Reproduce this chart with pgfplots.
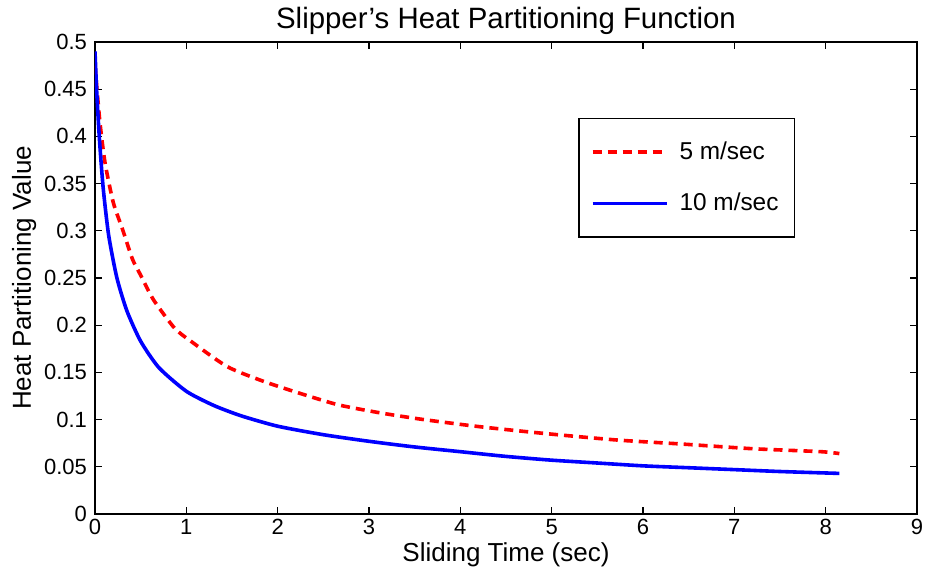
\documentclass[border=0pt]{standalone}
\usepackage{fontspec}
\setmainfont{Liberation Sans}
\usepackage{pgfplots}
\pgfplotsset{compat=1.18}
\begin{document}
\begin{tikzpicture}
\begin{axis}[
  scale only axis,
  width=411pt, height=236pt,
  xmin=0, xmax=9, ymin=0, ymax=0.5,
  xtick={0,1,...,9},
  ytick={0,0.05,0.1,0.15,0.2,0.25,0.3,0.35,0.4,0.45,0.5},
  scaled y ticks=false,
  yticklabel style={/pgf/number format/fixed, /pgf/number format/precision=2},
  /pgf/number format/assume math mode=true,
  tick align=inside,
  major tick length=3.5pt,
  tick style={black, line width=0.6pt},
  axis line style={line width=0.8pt},
  ticklabel style={font=\fontsize{11pt}{13pt}\selectfont},
  xticklabel style={yshift=1pt},
  yticklabel style={xshift=-0.5pt},
  xlabel={Sliding Time (sec)},
  ylabel={Heat Partitioning Value},
  label style={font=\fontsize{13pt}{15pt}\selectfont},
  xlabel style={yshift=3pt},
  ylabel style={yshift=-3pt},
  title={Slipper’s Heat Partitioning Function},
  title style={font=\fontsize{14.7pt}{16pt}\selectfont, yshift=-6pt},
  legend cell align=left,
  legend style={at={(0.588,0.839)}, anchor=north west, draw=black, line width=0.6pt,
    font=\fontsize{12.2pt}{15pt}\selectfont, row sep=11.5pt, inner xsep=6pt, inner ysep=9.5pt},
  legend image code/.code={\draw[#1] (0pt,0pt) -- (37pt,0pt);},
]
\addplot[red, line width=1.8pt, dash pattern=on 4.5pt off 3pt, smooth, tension=0.4] coordinates {
(0,0.475) (0.01,0.463) (0.055,0.414) (0.11,0.372) (0.2,0.33) (0.3,0.302)
(0.41,0.27) (0.5,0.253) (0.64,0.227) (0.87,0.197) (1.05,0.183) (1.45,0.156)
(1.86,0.140) (2.27,0.127) (2.67,0.1155) (3.13,0.107) (3.6,0.100) (4.21,0.0925)
(4.9,0.0855) (5.71,0.0784) (6.41,0.0742) (7.19,0.0692) (7.95,0.066) (8.15,0.064)
};
\addlegendentry{\hspace{3.5pt}5 m/sec}
\addplot[blue, line width=1.8pt, smooth, tension=0.4] coordinates {
(0,0.49) (0.02,0.445) (0.05,0.395) (0.09,0.345) (0.15,0.295) (0.24,0.25)
(0.35,0.215) (0.5,0.183) (0.7,0.155) (1.0,0.13) (1.3,0.115) (1.6,0.104)
(2.0,0.093) (2.5,0.084) (3.0,0.077) (3.5,0.071) (4.0,0.066) (4.5,0.061)
(5.0,0.057) (5.5,0.054) (6.0,0.051) (6.5,0.049) (7.0,0.047) (7.5,0.045) (8.15,0.043)
};
\addlegendentry{\hspace{3.5pt}10 m/sec}
\end{axis}
\pgfresetboundingbox
\path ([xshift=-47.5pt,yshift=-31pt]current axis.south west) rectangle ([xshift=5pt,yshift=21pt]current axis.north east);
\end{tikzpicture}
\end{document}
